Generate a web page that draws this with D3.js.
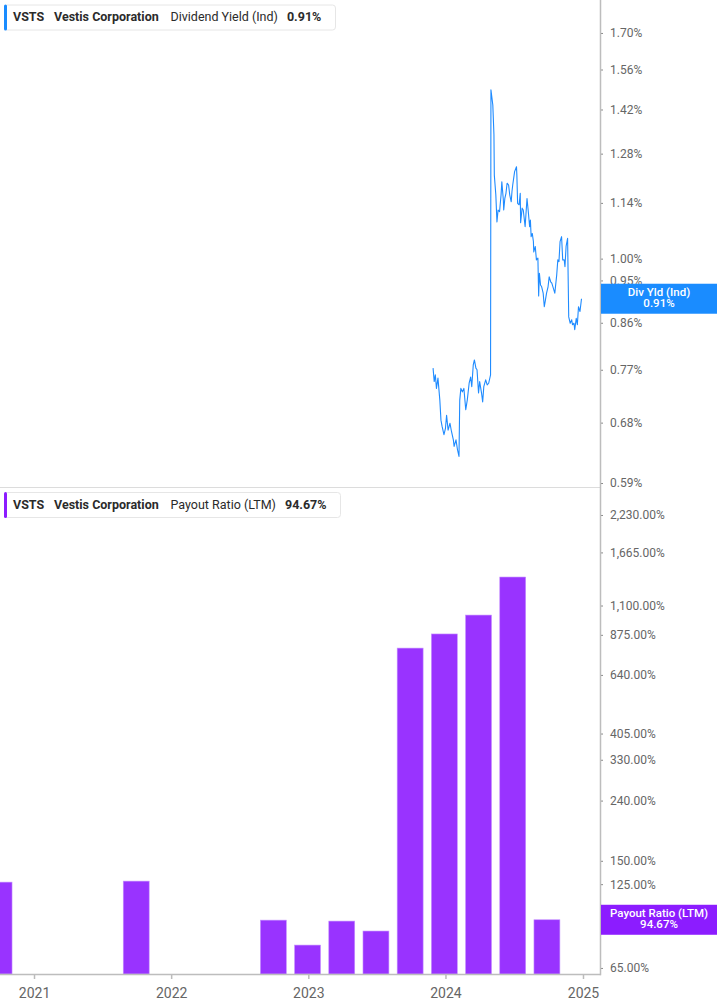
<!DOCTYPE html>
<html>
<head>
<meta charset="utf-8">
<script src="https://cdn.jsdelivr.net/npm/d3@7"></script>
<style>
  html, body { margin: 0; padding: 0; background: #fff; }
  svg { display: block; }
  text { font-family: Roboto, "Noto Sans", sans-serif; }
</style>
</head>
<body>
<svg id="chart" width="717" height="1005"></svg>
<script>
// ---------------- DATA ----------------
const ticker = "VSTS";
const companyName = "Vestis Corporation";
const yieldLabel = "Dividend Yield (Ind)";
const yieldShort = "Div Yld (Ind)";
const payoutLabel = "Payout Ratio (LTM)";

const yieldDates = [
  "2023-11-29","2023-12-02","2023-12-05","2023-12-08","2023-12-12","2023-12-17","2023-12-20","2023-12-23","2023-12-28",
  "2024-01-01","2024-01-04","2024-01-08","2024-01-13","2024-01-17","2024-01-22","2024-01-24","2024-01-29",
  "2024-02-02","2024-02-06","2024-02-08","2024-02-11","2024-02-15","2024-02-19","2024-02-24","2024-02-28",
  "2024-03-04","2024-03-08","2024-03-11","2024-03-15","2024-03-18","2024-03-22","2024-03-25","2024-03-29",
  "2024-04-01","2024-04-06","2024-04-09","2024-04-12","2024-04-17","2024-04-21","2024-04-25","2024-04-30",
  "2024-05-01","2024-05-06","2024-05-09","2024-05-10","2024-05-14","2024-05-17","2024-05-20","2024-05-24","2024-05-28","2024-05-30",
  "2024-06-03","2024-06-04","2024-06-07","2024-06-10","2024-06-13","2024-06-17","2024-06-20","2024-06-24","2024-06-26","2024-06-28",
  "2024-07-03","2024-07-08","2024-07-09","2024-07-11","2024-07-15","2024-07-18","2024-07-19","2024-07-23","2024-07-26","2024-07-31",
  "2024-08-05","2024-08-08","2024-08-12","2024-08-14","2024-08-16","2024-08-19","2024-08-22","2024-08-23","2024-08-27","2024-08-30",
  "2024-09-03","2024-09-05","2024-09-07","2024-09-10","2024-09-13","2024-09-17","2024-09-20","2024-09-23","2024-09-26","2024-09-30",
  "2024-10-03","2024-10-07","2024-10-10","2024-10-14","2024-10-18","2024-10-23","2024-10-26","2024-10-29",
  "2024-11-01","2024-11-05","2024-11-08","2024-11-12","2024-11-14","2024-11-17","2024-11-21","2024-11-24","2024-11-28",
  "2024-12-02","2024-12-04","2024-12-08","2024-12-10","2024-12-14","2024-12-17","2024-12-20","2024-12-24","2024-12-28"
];
const yieldValues = [
  0.773,0.749,0.761,0.737,0.755,0.717,0.684,0.674,0.661,
  0.671,0.692,0.668,0.679,0.666,0.653,0.643,0.653,
  0.638,0.628,0.717,0.737,0.731,0.737,0.701,0.717,
  0.746,0.757,0.740,0.779,0.788,0.773,0.770,0.729,
  0.749,0.729,0.714,0.740,0.752,0.743,0.746,0.761,
  1.487,1.435,1.338,1.217,1.162,1.090,1.121,1.117,1.162,1.198,
  1.148,1.121,1.152,1.166,1.194,1.189,1.162,1.143,1.171,1.189,
  1.227,1.241,1.217,1.139,1.135,1.166,1.088,1.126,1.121,1.078,
  1.152,1.121,1.078,1.095,1.053,1.061,1.041,1.016,1.029,0.997,
  1.001,0.916,0.966,0.940,0.936,0.922,0.893,0.907,0.922,0.936,
  0.958,0.947,0.944,0.933,0.922,0.962,0.997,0.993,
  1.041,1.053,0.997,0.997,0.981,1.029,1.049,0.872,0.859,
  0.866,0.856,0.859,0.846,0.869,0.856,0.893,0.883,0.910
];
const yieldCurrent = 0.91;

const payoutDates = ["2020-09-30","2021-09-30","2022-09-30","2022-12-30","2023-03-31","2023-06-30",
                     "2023-09-29","2023-12-29","2024-03-29","2024-06-28","2024-09-27"];
const payoutValues = [127.0, 128.0, 94.4, 77.7, 93.7, 86.7, 789, 881, 1021, 1374, 94.67];
const payoutCurrent = 94.67;

const yieldTicks = [0.59, 0.68, 0.77, 0.86, 0.95, 1.00, 1.14, 1.28, 1.42, 1.56, 1.70];
const payoutTicks = [65, 95, 125, 150, 240, 330, 405, 640, 875, 1100, 1665, 2230];
const yearTicks = ["2021-01-01","2022-01-01","2023-01-01","2024-01-01","2025-01-01"];

// ---------------- LAYOUT ----------------
const W = 717, H = 1005;
const plotRight = 600;
const top1 = 0, bottom1 = 487;
const top2 = 490, bottom2 = 974;
const parse = d3.utcParse("%Y-%m-%d");

const svg = d3.select("#chart");

const x = d3.scaleUtc()
  .domain([Date.UTC(2020, 9, 2, 12), Date.UTC(2025, 1, 15, 6)])
  .range([0, plotRight]);

const y1 = d3.scaleLog().domain([0.5845, 1.837]).range([bottom1, top1]);
const y2 = d3.scaleLog().domain([62.0, 2710]).range([bottom2, top2]);

const fmtYield = v => d3.format(".2f")(v) + "%";
const fmtPayout = v => d3.format(",.2f")(v) + "%";

const lineBlue = "#1f8bff";
const labelBlue = "#1a8cff";
const barPurple = "#9933ff";
const labelPurple = "#8c1cff";

// separator between panels
svg.append("line")
  .attr("x1", 0).attr("x2", plotRight)
  .attr("y1", bottom1 + 0.5).attr("y2", bottom1 + 0.5)
  .attr("stroke", "#dcdcdc").attr("stroke-width", 1);

// ---------------- TOP: DIVIDEND YIELD LINE ----------------
const yieldData = yieldDates.map((d, i) => ({ date: parse(d), value: yieldValues[i] }));
const line = d3.line().x(d => x(d.date)).y(d => y1(d.value));
svg.append("path")
  .datum(yieldData)
  .attr("fill", "none")
  .attr("stroke", lineBlue)
  .attr("stroke-width", 1.1)
  .attr("stroke-linejoin", "round")
  .attr("d", line);

// ---------------- BOTTOM: PAYOUT RATIO BARS ----------------
const barW = x(parse("2021-03-11")) - x(parse("2021-01-01"));
svg.append("g")
  .selectAll("rect")
  .data(payoutDates.map((d, i) => ({ date: parse(d), value: payoutValues[i] })))
  .join("rect")
  .attr("x", d => x(d.date) - barW / 2)
  .attr("width", barW)
  .attr("y", d => y2(d.value))
  .attr("height", d => bottom2 - y2(d.value))
  .attr("fill", barPurple)
  .attr("stroke", "#c590ff")
  .attr("stroke-width", 0.6);

// ---------------- AXES ----------------
function styleYAxis(g) {
  g.select(".domain").remove();
  g.selectAll(".tick line").attr("stroke", "#888").attr("stroke-width", 1);
  g.selectAll(".tick text")
    .attr("fill", "#666")
    .attr("font-size", "12px")
    .attr("font-family", "Roboto, sans-serif");
}

svg.append("g")
  .attr("transform", `translate(${plotRight},0)`)
  .call(d3.axisRight(y1).tickValues(yieldTicks).tickFormat(fmtYield).tickSize(3).tickPadding(7))
  .call(styleYAxis);

svg.append("g")
  .attr("transform", `translate(${plotRight},0)`)
  .call(d3.axisRight(y2).tickValues(payoutTicks).tickFormat(fmtPayout).tickSize(3).tickPadding(7))
  .call(styleYAxis);

// x axis
const xAxisG = svg.append("g")
  .attr("transform", `translate(0,${bottom2})`)
  .call(d3.axisBottom(x).tickValues(yearTicks.map(parse)).tickFormat(d3.utcFormat("%Y")).tickSize(5).tickPadding(9));
xAxisG.select(".domain").remove();
xAxisG.selectAll(".tick line").attr("stroke", "#bbb").attr("stroke-width", 1.5);
xAxisG.selectAll(".tick text")
  .attr("fill", "#666")
  .attr("font-size", "14px")
  .attr("font-family", "Roboto, sans-serif");

// axis lines
svg.append("line")
  .attr("x1", 0).attr("x2", plotRight + 0.75)
  .attr("y1", bottom2 + 0.5).attr("y2", bottom2 + 0.5)
  .attr("stroke", "#bdbdbd").attr("stroke-width", 1.5);
svg.append("line")
  .attr("x1", plotRight + 0.5).attr("x2", plotRight + 0.5)
  .attr("y1", 0).attr("y2", bottom2 + 1.2)
  .attr("stroke", "#bdbdbd").attr("stroke-width", 1.5);

// ---------------- VALUE LABELS ON AXIS ----------------
function axisLabel(yPos, color, l1, l2) {
  const g = svg.append("g");
  g.append("rect")
    .attr("x", plotRight + 1).attr("y", yPos - 15)
    .attr("width", W - plotRight - 1).attr("height", 30)
    .attr("fill", color);
  const cx = (plotRight + W) / 2 + 0.5;
  g.append("text").attr("x", cx).attr("y", yPos - 3)
    .attr("text-anchor", "middle").attr("fill", "#fff")
    .attr("font-size", "11.5px").attr("font-weight", 500).text(l1);
  g.append("text").attr("x", cx).attr("y", yPos + 8.5)
    .attr("text-anchor", "middle").attr("fill", "#fff")
    .attr("font-size", "11.5px").attr("font-weight", 500).text(l2);
}
axisLabel(y1(yieldCurrent), labelBlue, yieldShort, fmtYield(yieldCurrent));
axisLabel(y2(payoutCurrent), labelPurple, payoutLabel, fmtPayout(payoutCurrent));

// ---------------- LEGENDS ----------------
function legend(yTop, w, color, metric, valueText) {
  const g = svg.append("g").attr("transform", `translate(4,${yTop})`);
  g.append("rect")
    .attr("x", 0.5).attr("y", 0.5).attr("width", w).attr("height", 25)
    .attr("rx", 3).attr("fill", "#fff").attr("stroke", "#e6e6e6");
  g.append("rect")
    .attr("x", 0).attr("y", 0).attr("width", 3).attr("height", 26)
    .attr("rx", 1.5).attr("fill", color);
  const t = g.append("text").attr("y", 16.5).attr("font-size", "12.5px").attr("fill", "#2b2b2b");
  t.append("tspan").attr("x", 9).attr("font-weight", 700).text(ticker);
  t.append("tspan").attr("x", 50).attr("font-weight", 700).text(companyName);
  t.append("tspan").attr("x", 166.5).attr("font-weight", 400).text(metric);
  t.append("tspan").attr("dx", 9).attr("font-weight", 700).text(valueText);
}
legend(4.5, 331, labelBlue, yieldLabel, fmtYield(yieldCurrent));
legend(492, 336, labelPurple, payoutLabel, fmtPayout(payoutCurrent));
</script>
</body>
</html>
